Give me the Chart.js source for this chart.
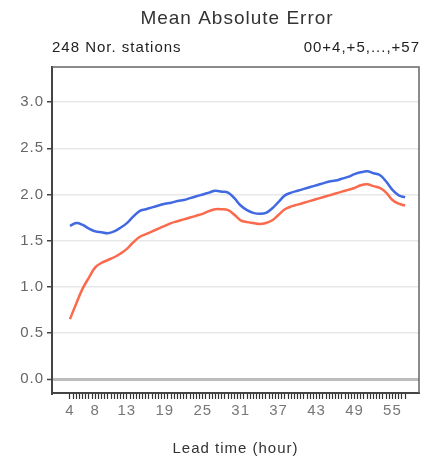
<!DOCTYPE html>
<html>
<head>
<meta charset="utf-8">
<script src="https://cdn.jsdelivr.net/npm/chart.js@4"></script>
<style>
  html, body { margin: 0; padding: 0; background: #fff; }
  #wrap { width: 436px; height: 465px; }
</style>
</head>
<body>
<div id="wrap"><canvas id="maeChart" width="436" height="465"></canvas></div>
<script>
const hours = [4, 5, 6, 7, 8, 9, 10, 11, 12, 13, 14, 15, 16, 17, 18, 19, 20, 21, 22, 23, 24, 25, 26, 27, 28, 29, 30,
  31, 32, 33, 34, 35, 36, 37, 38, 39, 40, 41, 42, 43, 44, 45, 46, 47, 48, 49, 50, 51, 52, 53, 54, 55, 56, 57];

const blueMae = [1.66, 1.69, 1.67, 1.63, 1.60, 1.59, 1.58, 1.60, 1.64, 1.69, 1.76, 1.82, 1.84, 1.86, 1.88, 1.90,
  1.91, 1.93, 1.94, 1.96, 1.98, 2.00, 2.02, 2.04, 2.03, 2.02, 1.96, 1.88, 1.83, 1.80, 1.79, 1.80, 1.85, 1.92,
  1.99, 2.02, 2.04, 2.06, 2.08, 2.10, 2.12, 2.14, 2.15, 2.17, 2.19, 2.22, 2.24, 2.25, 2.23, 2.21, 2.14, 2.05,
  1.99, 1.97];

const redMae = [0.65, 0.82, 0.98, 1.10, 1.21, 1.26, 1.29, 1.32, 1.36, 1.41, 1.48, 1.54, 1.57, 1.60, 1.63, 1.66,
  1.69, 1.71, 1.73, 1.75, 1.77, 1.79, 1.82, 1.84, 1.84, 1.83, 1.78, 1.72, 1.70, 1.69, 1.68, 1.69, 1.72, 1.78,
  1.84, 1.87, 1.89, 1.91, 1.93, 1.95, 1.97, 1.99, 2.01, 2.03, 2.05, 2.07, 2.10, 2.11, 2.09, 2.07, 2.02, 1.94,
  1.90, 1.88];

const xLabels = [4, 8, 13, 19, 25, 31, 37, 43, 49, 55];
const yTicks = [0, 0.5, 1.0, 1.5, 2.0, 2.5, 3.0];

const FONT = "'Liberation Sans', Arial, sans-serif";

// wide letter spacing like the original plot's font
const spacing = {
  id: 'spacing',
  beforeDraw(chart) { chart.ctx.letterSpacing = '1px'; }
};

// title, header line and the box edges that the scales do not draw
const decor = {
  id: 'decor',
  afterDraw(chart) {
    const c = chart.ctx;
    const a = chart.chartArea;
    c.save();
    c.letterSpacing = '1px';
    c.strokeStyle = '#666';
    c.lineWidth = 1.5;
    c.beginPath();
    c.moveTo(a.left, a.top);
    c.lineTo(a.right, a.top);
    c.lineTo(a.right, a.bottom);
    c.stroke();

    c.fillStyle = '#333';
    c.textBaseline = 'middle';
    c.textAlign = 'center';
    c.font = '19px ' + FONT;
    c.fillText('Mean Absolute Error', 237, 19);

    c.fillStyle = '#222';
    c.font = '15px ' + FONT;
    c.textAlign = 'left';
    c.fillText('248 Nor. stations', a.left, 48);
    c.textAlign = 'right';
    c.fillText('00+4,+5,...,+57', a.right + 1, 48);
    c.restore();
  }
};

const ctx = document.getElementById('maeChart').getContext('2d');

new Chart(ctx, {
  type: 'line',
  data: {
    datasets: [
      {
        label: 'blue',
        data: hours.map((h, i) => ({ x: h, y: blueMae[i] })),
        borderColor: '#4169e1',
        borderWidth: 2.5,
        pointRadius: 0,
        tension: 0.4,
        fill: false
      },
      {
        label: 'red',
        data: hours.map((h, i) => ({ x: h, y: redMae[i] })),
        borderColor: '#fa6a4c',
        borderWidth: 2.5,
        pointRadius: 0,
        tension: 0.4,
        fill: false
      }
    ]
  },
  options: {
    responsive: false,
    animation: false,
    layout: { padding: { top: 67, right: 17, left: 0, bottom: 0 } },
    plugins: {
      legend: { display: false },
      tooltip: { enabled: false }
    },
    scales: {
      x: {
        type: 'linear',
        min: 1.16,
        max: 59.2,
        afterFit: s => { s.height = 72; },
        afterBuildTicks: s => {
          const t = [];
          for (let v = 4; v <= 57; v += 0.5) t.push({ value: v });
          s.ticks = t;
        },
        border: { color: '#444', width: 2 },
        grid: {
          drawOnChartArea: false,
          drawTicks: true,
          tickLength: 6,
          tickColor: '#333',
          tickWidth: 1.2
        },
        ticks: {
          autoSkip: false,
          maxRotation: 0,
          padding: 3,
          color: '#777',
          font: { family: FONT, size: 15 },
          callback: v => (xLabels.includes(v) ? String(v) : '')
        },
        title: {
          display: true,
          text: 'Lead time (hour)',
          color: '#333',
          font: { family: FONT, size: 15 },
          padding: { top: 0, bottom: 7 }
        }
      },
      y: {
        min: -0.15,
        max: 3.38,
        afterFit: s => { s.width = 52; },
        afterBuildTicks: s => { s.ticks = yTicks.map(v => ({ value: v })); },
        border: { color: '#444', width: 2 },
        grid: {
          color: c => (c.tick && c.tick.value === 0 ? '#bdbdbd' : '#e8e8e8'),
          lineWidth: c => (c.tick && c.tick.value === 0 ? 3 : 1.5),
          tickColor: '#444',
          tickLength: 5,
          tickWidth: 1.5
        },
        ticks: {
          padding: 3,
          color: '#666',
          font: { family: FONT, size: 15 },
          callback: v => Number(v).toFixed(1)
        }
      }
    }
  },
  plugins: [spacing, decor]
});
</script>
</body>
</html>
